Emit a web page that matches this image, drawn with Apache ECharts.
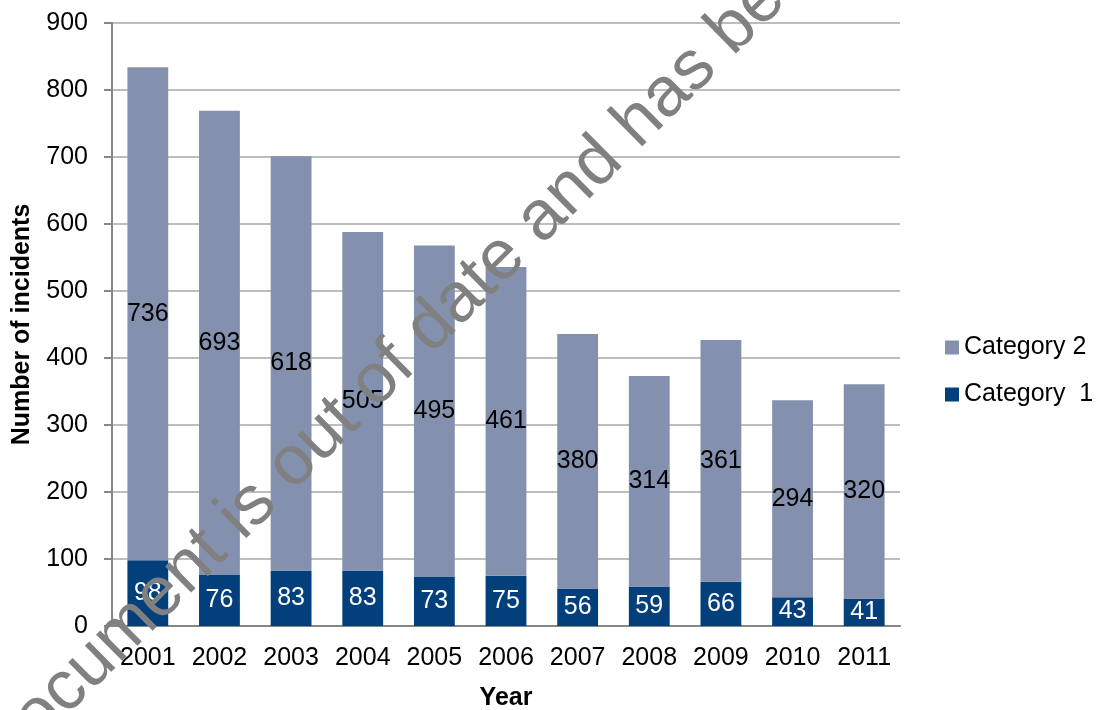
<!DOCTYPE html>
<html>
<head>
<meta charset="utf-8">
<script src="https://cdn.jsdelivr.net/npm/echarts@6/dist/echarts.min.js"></script>
<style>
  html, body { margin: 0; padding: 0; background: #ffffff; overflow: hidden; }
  #chart { width: 1097px; height: 710px; }
</style>
</head>
<body>
<div id="chart"></div>
<script>
// Incidents per year, split into two categories (stacked)
const years = ['2001', '2002', '2003', '2004', '2005', '2006', '2007', '2008', '2009', '2010', '2011'];
const category1 = [98, 76, 83, 83, 73, 75, 56, 59, 66, 43, 41];
const category2 = [736, 693, 618, 505, 495, 461, 380, 314, 361, 294, 320];
const yTicks = { min: 0, max: 900, interval: 100 };

const FONT = '"Liberation Sans", Arial, sans-serif';
const chart = echarts.init(document.getElementById('chart'), null, { renderer: 'canvas' });

// Diagonal stamp across the plot
const wmAngle = 44.7 * Math.PI / 180;
const wmFont = '70px ' + FONT;

chart.setOption({
  animation: false,
  backgroundColor: '#ffffff',
  textStyle: { fontFamily: FONT },
  grid: { left: 112, right: 197, top: 23, bottom: 84, containLabel: false, outerBoundsMode: 'none' },
  legend: {
    orient: 'vertical',
    left: 940,
    top: 330,
    itemWidth: 14,
    itemHeight: 14,
    itemGap: 22,
    icon: 'rect',
    data: ['Category 2', 'Category  1'],
    textStyle: { fontFamily: FONT, fontSize: 25, color: '#000000' }
  },
  xAxis: {
    type: 'category',
    data: years,
    name: 'Year',
    nameLocation: 'middle',
    nameGap: 60,
    nameTextStyle: { fontFamily: FONT, fontSize: 25, fontWeight: 'bold', color: '#000000' },
    axisLine: { lineStyle: { color: '#868686', width: 2 } },
    axisTick: { show: false },
    axisLabel: { fontFamily: FONT, fontSize: 25, color: '#000000', margin: 20, interval: 0 }
  },
  yAxis: {
    type: 'value',
    min: yTicks.min,
    max: yTicks.max,
    interval: yTicks.interval,
    name: 'Number of incidents',
    nameLocation: 'middle',
    nameGap: 77,
    nameTextStyle: { fontFamily: FONT, fontSize: 25, fontWeight: 'bold', color: '#000000' },
    axisLine: { show: true, lineStyle: { color: '#868686', width: 2 } },
    axisTick: { show: true, length: 8, lineStyle: { color: '#868686', width: 2 } },
    axisLabel: { fontFamily: FONT, fontSize: 25, color: '#000000', margin: 24 },
    splitLine: { lineStyle: { color: '#bdbdbd', width: 2 } }
  },
  series: [
    {
      name: 'Category  1',
      type: 'bar',
      stack: 'total',
      data: category1,
      barWidth: '57%',
      itemStyle: { color: '#03407b' },
      label: {
        show: true,
        position: 'inside',
        fontFamily: FONT,
        fontSize: 25,
        color: '#ffffff'
      }
    },
    {
      name: 'Category 2',
      type: 'bar',
      stack: 'total',
      data: category2,
      barWidth: '57%',
      itemStyle: { color: '#8491ae' },
      label: {
        show: true,
        position: 'inside',
        fontFamily: FONT,
        fontSize: 25,
        color: '#000000'
      }
    }
  ],
  graphic: [
    {
      type: 'group',
      x: 736,
      y: 60,
      rotation: wmAngle,
      silent: true,
      children: [
        {
          type: 'text',
          z: 100,
          zlevel: 1,
          style: {
            text: 'This document is out of date and has ',
            x: 0, y: -24,
            textAlign: 'right',
            textVerticalAlign: 'middle',
            font: wmFont,
            fill: '#808080'
          }
        },
        {
          type: 'text',
          z: 100,
          zlevel: 1,
          style: {
            text: 'been withdrawn',
            x: 0, y: -24,
            textAlign: 'left',
            textVerticalAlign: 'middle',
            font: wmFont,
            fill: '#808080'
          }
        }
      ]
    }
  ]
});
</script>
</body>
</html>
